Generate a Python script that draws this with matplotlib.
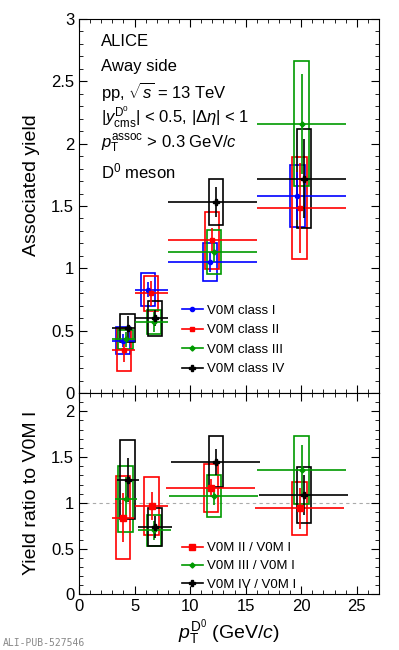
import numpy as np
import matplotlib
matplotlib.use("Agg")
import matplotlib.pyplot as plt
from matplotlib.patches import Rectangle
from matplotlib.lines import Line2D
from matplotlib.ticker import MultipleLocator, FormatStrFormatter

plt.rcParams["font.family"] = ["Liberation Sans", "DejaVu Sans"]
plt.rcParams["mathtext.fontset"] = "custom"
plt.rcParams["mathtext.rm"] = "Liberation Sans"
plt.rcParams["mathtext.it"] = "Liberation Sans:italic"
plt.rcParams["mathtext.bf"] = "Liberation Sans:bold"

# pT bins (GeV/c)
bin_lo = [3, 5, 8, 16]
bin_hi = [5, 8, 16, 24]

# associated yield per V0M class
x_c1 = [3.98, 6.23, 11.77, 19.65]
y_c1 = [0.42, 0.83, 1.05, 1.58]
stat_c1 = [0.05, 0.06, 0.08, 0.19]
sys_c1 = [0.108, 0.136, 0.153, 0.246]

x_c2 = [4.04, 6.47, 11.95, 19.86]
y_c2 = [0.345, 0.80, 1.225, 1.483]
stat_c2 = [0.095, 0.10, 0.10, 0.36]
sys_c2 = [0.167, 0.14, 0.23, 0.41]

x_c3 = [4.20, 6.77, 12.13, 20.04]
y_c3 = [0.43, 0.57, 1.13, 2.16]
stat_c3 = [0.06, 0.08, 0.08, 0.40]
sys_c3 = [0.076, 0.094, 0.178, 0.50]

x_c4 = [4.38, 6.83, 12.34, 20.24]
y_c4 = [0.52, 0.60, 1.53, 1.72]
stat_c4 = [0.10, 0.065, 0.12, 0.32]
sys_c4 = [0.113, 0.14, 0.184, 0.395]

# ratios to V0M class I
x_r2 = [3.98, 6.53, 11.86, 19.86]
y_r2 = [0.84, 0.965, 1.16, 0.94]
stat_r2 = [0.27, 0.15, 0.10, 0.22]
sys_r2 = [0.45, 0.32, 0.26, 0.29]

x_r3 = [4.20, 6.77, 12.13, 20.04]
y_r3 = [1.04, 0.70, 1.073, 1.36]
stat_r3 = [0.24, 0.10, 0.10, 0.27]
sys_r3 = [0.36, 0.17, 0.23, 0.375]

x_r4 = [4.38, 6.83, 12.31, 20.24]
y_r4 = [1.255, 0.738, 1.45, 1.084]
stat_r4 = [0.24, 0.12, 0.14, 0.22]
sys_r4 = [0.43, 0.21, 0.28, 0.305]

blue = "#0000ff"
red = "#ff0000"
green = "#009900"
black = "#000000"
box_w = 1.3


def draw(ax, x, y, stat, sys, col, marker, ms, xlo=None, xhi=None):
    x = np.array(x)
    if xlo is None:
        half = (np.array(bin_hi) - np.array(bin_lo)) / 2.0
        xerr = [half, half]
    else:
        xerr = [x - np.array(xlo), np.array(xhi) - x]
    for xi, yi, si in zip(x, y, sys):
        ax.add_patch(Rectangle((xi - box_w / 2, yi - si), box_w, 2 * si,
                               fill=False, ec=col, lw=1.2))
    ax.errorbar(x, y, xerr=xerr, yerr=stat, fmt=marker, color=col, ms=ms,
                lw=1.2, capsize=0)
    return Line2D([], [], color=col, marker=marker, ms=ms, lw=1.2)


def style(ax):
    ax.tick_params(which="both", direction="in", top=True, right=True, labelsize=12)
    ax.tick_params(which="major", length=6)
    ax.tick_params(which="minor", length=3)
    ax.xaxis.set_major_locator(MultipleLocator(5))
    ax.xaxis.set_minor_locator(MultipleLocator(1))
    ax.yaxis.set_major_locator(MultipleLocator(0.5))
    ax.yaxis.set_minor_locator(MultipleLocator(0.1))
    ax.yaxis.set_major_formatter(FormatStrFormatter("%g"))
    ax.xaxis.set_major_formatter(FormatStrFormatter("%g"))
    ax.set_xlim(0, 27)


fig = plt.figure(figsize=(3.99, 6.5), dpi=100)
ax1 = fig.add_axes([0.198, 0.3954, 0.752, 0.5754])
ax2 = fig.add_axes([0.198, 0.0854, 0.752, 0.31])

# top panel: yields, horizontal bars on bin edges
handles, labels = [], []
for x, y, st, sy, col, mk, ms, lab in [
        (x_c1, y_c1, stat_c1, sys_c1, blue, "o", 3.0, "V0M class I"),
        (x_c2, y_c2, stat_c2, sys_c2, red, "s", 3.0, "V0M class II"),
        (x_c3, y_c3, stat_c3, sys_c3, green, "D", 2.6, "V0M class III"),
        (x_c4, y_c4, stat_c4, sys_c4, black, "P", 4.5, "V0M class IV")]:
    handles.append(draw(ax1, x, y, st, sy, col, mk, ms, xlo=bin_lo, xhi=bin_hi))
    labels.append(lab)

style(ax1)
ax1.set_ylim(0, 3)
ax1.tick_params(labelbottom=False)
ax1.set_ylabel("Associated yield", fontsize=14)
ax1.yaxis.set_label_coords(-0.13, 0.556)
ax1.legend(handles, labels, loc="upper left", bbox_to_anchor=(0.32, 0.254),
           frameon=False, fontsize=9.5, handlelength=1.6, handletextpad=0.3,
           labelspacing=0.55, borderpad=0)

lines = ["ALICE", "Away side", r"pp, $\sqrt{s}$ = 13 TeV",
         r"$|y^{\mathrm{D}^0}_{\mathrm{cms}}|$ < 0.5, $|\Delta\eta|$ < 1",
         r"$p_{\mathrm{T}}^{\mathrm{assoc}}$ > 0.3 GeV/$c$", r"D$^0$ meson"]
ys = [0.939, 0.872, 0.805, 0.738, 0.667, 0.592]
for t, yy in zip(lines, ys):
    ax1.text(0.072, yy, t, transform=ax1.transAxes, fontsize=12, va="center", ha="left")

# bottom panel: ratios, horizontal bars follow the shifted points
handles, labels = [], []
for x, y, st, sy, col, mk, ms, lab in [
        (x_r2, y_r2, stat_r2, sys_r2, red, "s", 4.5, "V0M II / V0M I"),
        (x_r3, y_r3, stat_r3, sys_r3, green, "D", 2.6, "V0M III / V0M I"),
        (x_r4, y_r4, stat_r4, sys_r4, black, "P", 4.5, "V0M IV / V0M I")]:
    handles.append(draw(ax2, x, y, st, sy, col, mk, ms))
    labels.append(lab)

ax2.axhline(1, color="#aaaaaa", ls=(0, (3, 3)), lw=0.8, zorder=0)
style(ax2)
ax2.set_ylim(0, 2.2)
ax2.set_ylabel("Yield ratio to V0M I", fontsize=14)
ax2.yaxis.set_label_coords(-0.13, 0.504)
ax2.set_xlabel(r"$p_{\mathrm{T}}^{\mathrm{D}^0}$ (GeV/$c$)", fontsize=14, labelpad=2)
ax2.legend(handles, labels, loc="upper left", bbox_to_anchor=(0.32, 0.293),
           frameon=False, fontsize=9.5, handlelength=1.6, handletextpad=0.3,
           labelspacing=0.45, borderpad=0)

fig.text(0.008, 0.003, "ALI-PUB-527546", fontsize=7, color="#888888",
         family="DejaVu Sans Mono", va="bottom", ha="left")

fig.savefig("out.png", dpi=100)
